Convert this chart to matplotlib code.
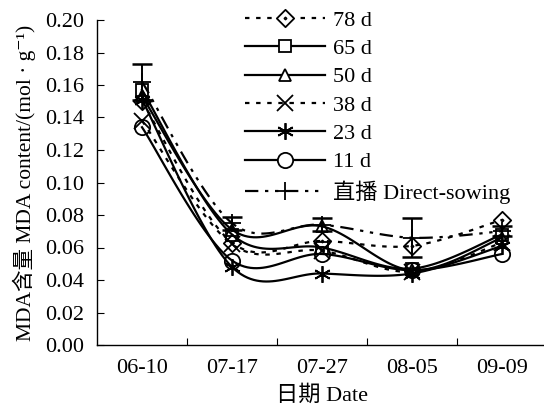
import numpy as np
import matplotlib
matplotlib.use("Agg")
import matplotlib.pyplot as plt
from matplotlib.lines import Line2D
from matplotlib.path import Path

plt.rcParams['font.family'] = ['Liberation Serif', 'Noto Sans CJK SC', 'DejaVu Serif']

dates = ["06-10", "07-17", "07-27", "08-05", "09-09"]
labels = ["78 d", "65 d", "50 d", "38 d", "23 d", "11 d", "直播 Direct-sowing"]

d78 = [0.150, 0.063, 0.064, 0.061, 0.077]
d65 = [0.157, 0.068, 0.060, 0.047, 0.068]
d50 = [0.153, 0.071, 0.073, 0.046, 0.066]
d38 = [0.138, 0.062, 0.058, 0.045, 0.063]
d23 = [0.151, 0.048, 0.044, 0.044, 0.061]
d11 = [0.134, 0.052, 0.056, 0.046, 0.056]
direct = [0.162, 0.075, 0.074, 0.066, 0.070]
direct_err = [0.011, 0.004, 0.004, 0.012, 0.003]

# diamond with a small dot inside
_outer = [(0, 1), (1, 0), (0, -1), (-1, 0), (0, 1)]
_inner = [(0, 0.12), (0.12, 0), (0, -0.12), (-0.12, 0), (0, 0.12)]
_codes = [Path.MOVETO, Path.LINETO, Path.LINETO, Path.LINETO, Path.CLOSEPOLY]
dot_diamond = Path(_outer + _inner, _codes + _codes)

series = [d78, d65, d50, d38, d23, d11, direct]
markers = [dot_diamond, 's', '^', 'x', (6, 2, 0), 'o', '+']
msizes = [12.5, 9, 9, 11, 12, 11, 13]
styles = [(0, (2, 3)), '-', '-', (0, (2, 3)), '-', '-', (0, (6, 3, 1.5, 3, 1.5, 3))]


def smooth(x, y, n=30):
    x = np.asarray(x, float)
    y = np.asarray(y, float)
    px = np.concatenate([[x[0]], x, [x[-1]]])
    py = np.concatenate([[y[0]], y, [y[-1]]])
    xs, ys = [], []
    for i in range(1, len(px) - 2):
        p0x, p1x, p2x, p3x = px[i - 1], px[i], px[i + 1], px[i + 2]
        p0y, p1y, p2y, p3y = py[i - 1], py[i], py[i + 1], py[i + 2]
        c1x = p1x + (p2x - p0x) / 6
        c1y = p1y + (p2y - p0y) / 6
        c2x = p2x - (p3x - p1x) / 6
        c2y = p2y - (p3y - p1y) / 6
        t = np.linspace(0, 1, n)
        bx = (1 - t) ** 3 * p1x + 3 * (1 - t) ** 2 * t * c1x + 3 * (1 - t) * t ** 2 * c2x + t ** 3 * p2x
        by = (1 - t) ** 3 * p1y + 3 * (1 - t) ** 2 * t * c1y + 3 * (1 - t) * t ** 2 * c2y + t ** 3 * p2y
        xs.append(bx)
        ys.append(by)
    return np.concatenate(xs), np.concatenate(ys)


fig = plt.figure(figsize=(5.44, 4.09), dpi=100)
ax = fig.add_axes([97 / 544, 64 / 409, 450 / 544, 325 / 409])

x = np.arange(len(dates))
handles = []
for vals, m, ms, ls, lab in zip(series, markers, msizes, styles, labels):
    sx, sy = smooth(x, vals)
    ax.plot(sx, sy, color='black', lw=1.6, ls=ls, zorder=2)
    ax.plot(x, vals, ls='none', marker=m, ms=ms, mfc='none', mec='black', mew=1.3, zorder=3)
    handles.append(Line2D([], [], color='black', lw=1.6, ls=ls, marker=m, ms=ms,
                          mfc='white', mec='black', mew=1.3))

ax.errorbar(x, direct, yerr=direct_err, fmt='none', ecolor='black', elinewidth=1.4,
            capsize=7, capthick=1.8, zorder=3)

ax.set_xlim(-0.5, 4.5)
ax.set_ylim(0, 0.20)
ax.set_yticks(np.arange(0, 0.201, 0.02))
ax.set_yticklabels([f"{v:.2f}" for v in np.arange(0, 0.201, 0.02)])
ax.set_xticks(x)
ax.set_xticklabels(dates)
ax.set_xticks(np.arange(0.5, 4.0, 1.0), minor=True)
ax.tick_params(axis='x', which='major', length=0, labelsize=16, pad=10)
ax.tick_params(axis='x', which='minor', direction='in', length=5, width=0.8)
ax.tick_params(axis='y', direction='in', length=5, width=0.8, labelsize=16, pad=9)
for s in ['top', 'right']:
    ax.spines[s].set_visible(False)
for s in ['left', 'bottom']:
    ax.spines[s].set_linewidth(1.0)

ax.set_xlabel("日期 Date", fontsize=16, labelpad=5)
ax.set_ylabel("MDA含量 MDA content/(mol · g\u207b\u00b9)", fontsize=15.5, labelpad=7)

leg = fig.legend(handles, labels, loc='upper left', bbox_to_anchor=(234 / 544, 1 + 1 / 409),
                 frameon=False, fontsize=16, handlelength=3.6, handletextpad=0.36,
                 labelspacing=0.35, borderpad=0.0)

fig.savefig("out.png", dpi=100)
